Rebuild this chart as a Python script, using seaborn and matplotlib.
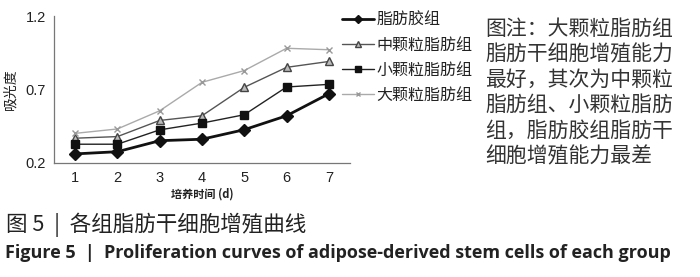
import matplotlib
matplotlib.use("Agg")
import matplotlib.pyplot as plt
import seaborn as sns
import pandas as pd
from matplotlib.ticker import MultipleLocator, FixedLocator

sns.set_theme(style="white")
plt.rcParams['font.family'] = ['Noto Sans CJK SC', 'DejaVu Sans']

days = [1, 2, 3, 4, 5, 6, 7]
series_names = ["脂肪胶组", "中颗粒脂肪组", "小颗粒脂肪组", "大颗粒脂肪组"]
gel = [0.26, 0.275, 0.35, 0.36, 0.425, 0.52, 0.67]
medium = [0.367, 0.378, 0.488, 0.52, 0.714, 0.85, 0.89]
small = [0.326, 0.326, 0.424, 0.47, 0.527, 0.716, 0.734]
large = [0.40, 0.43, 0.554, 0.748, 0.828, 0.98, 0.97]
values = [gel, medium, small, large]

yticks = [0.2, 0.7, 1.2]
xlabel = "培养时间 (d)"
ylabel = "吸光度"
note_lines = ["图注：大颗粒脂肪组", "脂肪干细胞增殖能力", "最好，其次为中颗粒",
              "脂肪组、小颗粒脂肪", "组，脂肪胶组脂肪干", "细胞增殖能力最差"]
caption_cn = "图 5  |  各组脂肪干细胞增殖曲线"
caption_en = "Figure 5  |  Proliferation curves of adipose-derived stem cells of each group"

styles = [
    dict(color="#111111", marker="D", lw=2.0, ms=6, mfc="#111111", mec="#111111"),
    dict(color="#555555", marker="^", lw=1.0, ms=5.5, mfc="#bbbbbb", mec="#444444"),
    dict(color="#222222", marker="s", lw=1.0, ms=5.5, mfc="#111111", mec="#111111"),
    dict(color="#aaaaaa", marker="x", lw=1.0, ms=4, mfc="#999999", mec="#999999"),
]

fig = plt.figure(figsize=(7.0, 2.77), dpi=100)
ax = fig.add_axes([54/700, 1-162.7/277, 296/700, (162.7-16)/277])

for name, vals, st in zip(series_names, values, styles):
    df = pd.DataFrame({"day": days, "od": vals})
    sns.lineplot(data=df, x="day", y="od", ax=ax, label=name,
                 color=st["color"], marker=st["marker"], linewidth=st["lw"],
                 markersize=st["ms"], markerfacecolor=st["mfc"],
                 markeredgecolor=st["mec"], markeredgewidth=1.0)

ax.set_xlim(0.5, 7.5)
ax.set_ylim(0.2, 1.2)
ax.set_xticks(days)
ax.set_xticklabels([str(d) for d in days], fontsize=10.5, family=['Liberation Sans'], color="#222222")
ax.xaxis.set_minor_locator(FixedLocator([0.5 + k for k in range(8)]))
ax.set_yticks(yticks)
ax.set_yticklabels([f"{t:.1f}" for t in yticks], fontsize=10.5, family=['Liberation Sans'], color="#222222")
ax.yaxis.set_minor_locator(MultipleLocator(0.1))
ax.tick_params(axis='x', which='major', length=0, pad=6)
ax.tick_params(axis='x', which='minor', length=4, width=0.8, color="#777777", direction='out')
ax.tick_params(axis='y', which='major', length=4, width=0.8, color="#777777", direction='out', pad=2)
ax.tick_params(axis='y', which='minor', length=3, width=0.8, color="#777777", direction='out')
for s in ["top", "right"]:
    ax.spines[s].set_visible(False)
for s in ["left", "bottom"]:
    ax.spines[s].set_color("#777777")
    ax.spines[s].set_linewidth(0.9)
ax.set_xlabel(xlabel, fontsize=8, fontweight='bold', labelpad=2, color="#222222")
ax.set_ylabel(ylabel, fontsize=10, labelpad=6, color="#222222")

leg = ax.legend(loc="upper left", bbox_to_anchor=(342/700, 1-12/277),
                bbox_transform=fig.transFigure, frameon=False, fontsize=11.5,
                handlelength=2.0, handletextpad=0.15, labelspacing=0.5,
                markerscale=0.75, borderaxespad=0, borderpad=0)
for t in leg.get_texts():
    t.set_color("#222222")

for i, line in enumerate(note_lines):
    fig.text(485/700, 1 - (29 + i*25.4)/277, line, fontsize=15, va='center', ha='left',
             color="#333333")

fig.text(6/700, 1-225/277, caption_cn, fontsize=15.5, va='center', ha='left',
         fontweight='medium', color="#222222")
fig.text(5/700, 1-253/277, caption_en, fontsize=13, va='center', ha='left',
         fontweight='bold', family=['Open Sans', 'DejaVu Sans'], color="#222222")

fig.savefig("out.png", dpi=100)
